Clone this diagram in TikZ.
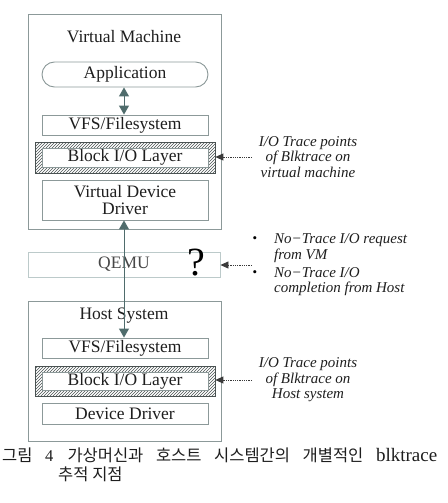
\documentclass[tikz,border=0pt]{standalone}
\usepackage{fontspec}
\setmainfont{Liberation Serif}
\newfontfamily\krfont{Noto Sans CJK KR}
\usetikzlibrary{arrows.meta,patterns}
\definecolor{boxgray}{HTML}{8C9999}
\definecolor{qemugray}{HTML}{BCCACA}
\definecolor{arrowcol}{HTML}{4F6C6C}
\definecolor{hatchgray}{HTML}{4A5252}
\definecolor{notecol}{HTML}{3A3A3A}
\definecolor{txt}{HTML}{1E1E1E}
\newcommand{\boxfont}{\fontsize{17.5}{18}\selectfont}
\newcommand{\notefont}{\fontsize{15}{15.5}\selectfont\itshape}
\tikzset{
  frame/.style={draw=boxgray, line width=0.9pt},
  title/.style={font=\boxfont, text=txt, inner sep=0pt},
  layer/.style={draw=boxgray, line width=0.9pt, fill=white, minimum width=166pt,
    inner sep=0pt, font=\boxfont, text=txt, align=center},
  hatchbox/.style={draw=hatchgray, line width=0.7pt, pattern=north east lines,
    pattern color=hatchgray, minimum width=180pt, minimum height=31pt, inner sep=0pt},
  link/.style={draw=arrowcol, line width=1pt,
    {Triangle[width=10pt,length=9pt]}-{Triangle[width=10pt,length=9pt]}},
  notearrow/.style={draw=notecol, densely dotted, line width=0.8pt,
    -{Triangle[width=7pt,length=8pt]}},
  notetext/.style={font=\notefont, text=txt, align=center, inner sep=0pt},
  captext/.style={anchor=west, inner sep=0pt, font=\fontsize{16.5}{16.5}\selectfont, text=txt},
}
\begin{document}
\begin{tikzpicture}[x=1pt,y=-1pt]
\useasboundingbox (0,0) rectangle (447,503);

% Virtual machine frame
\node[frame, minimum width=193pt, minimum height=215pt, inner sep=0pt] (vm) at (124.5,121.5) {};
\node[title] (vmtitle) at (124,37) {Virtual Machine};
\node[layer, rounded corners=12.5pt, minimum height=25pt] (app) at (125,74.5) {Application};
\node[layer, minimum height=20pt] (vmvfs) at (125,125) {VFS/Filesystem};
\node[hatchbox] (vmblkout) at (125,157.5) {};
\node[layer, minimum height=19pt] (vmblk) at (125,157.5) {Block I/O Layer};
\node[layer, minimum height=40pt, text depth=0pt] (vdd) at (125,200) {Virtual Device\\[-0.5pt]Driver};

% QEMU
\node[draw=qemugray, line width=0.9pt, minimum width=192pt, minimum height=25pt,
  inner sep=0pt, font=\boxfont, text=black!72] (qemu) at (124,264.5) {QEMU};
\node[font=\fontsize{40}{40}\selectfont, text=black, inner sep=0pt] (qmark) at (196,263) {?};

% Host frame
\node[frame, minimum width=193pt, minimum height=140pt, inner sep=0pt] (host) at (124.5,371) {};
\node[title] (hosttitle) at (124,316) {Host System};
\node[layer, minimum height=20pt] (hvfs) at (125,348) {VFS/Filesystem};
\node[hatchbox, minimum height=30pt] (hblkout) at (125,381) {};
\node[layer, minimum height=18pt] (hblk) at (125,381) {Block I/O Layer};
\node[layer, minimum height=21pt] (hdd) at (125,413.5) {Device Driver};

% vertical links
\draw[link] (app.south -| 124,0) -- (vmvfs.north -| 124,0);
\draw[link] (vdd.south -| 124,0) -- (hvfs.north -| 124,0);

% annotations
\node[notetext] (note1) at (308,157) {I/O Trace points\\of Blktrace on\\virtual machine};
\coordinate (n1s) at (252,157);
\draw[notearrow] (n1s) -- (vmblkout.east |- n1s);

\coordinate (n2s) at (252,265);
\draw[notearrow] (n2s) -- (qemu.east |- n2s);
\node[font=\fontsize{13}{13}\selectfont, inner sep=0pt] (b1) at (255,240) {\textbullet};
\node[font=\fontsize{13}{13}\selectfont, inner sep=0pt] (b2) at (255,274) {\textbullet};
\node[notetext, align=left, anchor=west] (note2a) at (274,248) {No−Trace I/O request\\from VM};
\node[notetext, align=left, anchor=west] (note2b) at (274,281.5) {No−Trace I/O\\completion from Host};

\node[notetext] (note3) at (308,380) {I/O Trace points\\of Blktrace on\\Host system};
\coordinate (n3s) at (252,380);
\draw[notearrow] (n3s) -- (hblkout.east |- n3s);

% caption
\node[captext] (cap1) at (2,455)
  {\makebox[435pt][s]{\krfont 그림 \rmfamily 4 \krfont 가상머신과 호스트 시스템간의 개별적인 \rmfamily\fontsize{19}{19}\selectfont blktrace}};
\node[captext] (cap2) at (58,474.5)
  {\krfont 추적 지점};
\end{tikzpicture}
\end{document}
